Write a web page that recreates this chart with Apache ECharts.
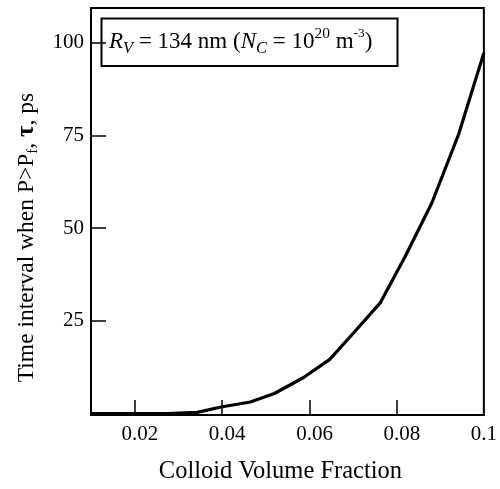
<!DOCTYPE html>
<html>
<head>
<meta charset="utf-8">
<script src="https://cdn.jsdelivr.net/npm/echarts@6/dist/echarts.min.js"></script>
<style>html,body{margin:0;padding:0;background:#fff}#c{width:500px;height:489px}</style>
</head>
<body>
<div id="c"></div>
<script>
// Data
const volumeFraction = [0.01, 0.0274, 0.0343, 0.0398, 0.0465, 0.052, 0.0587, 0.0647, 0.0709, 0.0763, 0.082, 0.0881, 0.0942, 0.1];
const tauPs =          [0,    0,      0.3,    1.75,   3.1,    5.4,   9.7,    14.6,   22.7,   29.9,   42.4,  56.8,   75.2,   97.2];
const xTickValues = [0.02, 0.04, 0.06, 0.08];
const xLabelValues = [0.02, 0.04, 0.06, 0.08, 0.1];
const yTickValues = [25, 50, 75, 100];
const xTitle = 'Colloid Volume Fraction';

const FONT = 'Liberation Serif';
const chart = echarts.init(document.getElementById('c'), null, {renderer: 'canvas'});
const seriesData = volumeFraction.map((x, i) => [x, tauPs[i]]);

chart.setOption({
  animation: false,
  backgroundColor: '#fff',
  title: {
    text: '{i|R}{sub|V}{n| = 134 nm (}{i|N}{sub|C}{n| = 10}{sup|20}{n| m}{sup2|-3}{n|)}',
    left: 109, top: 26, padding: 0,
    textStyle: {
      fontFamily: FONT, fontSize: 23, color: '#000', fontWeight: 'normal',
      rich: {
        n: {fontFamily: FONT, fontSize: 23, color: '#000'},
        i: {fontFamily: FONT, fontSize: 23, color: '#000', fontStyle: 'italic'},
        sub: {fontFamily: FONT, fontSize: 16.5, color: '#000', fontStyle: 'italic', padding: [14, 0, 0, 0]},
        sup: {fontFamily: FONT, fontSize: 15.5, color: '#000', padding: [0, 0, 16, 0]},
        sup2: {fontFamily: FONT, fontSize: 13.5, color: '#000', padding: [0, 0, 17, 0]}
      }
    }
  },
  graphic: [{
    type: 'rect', z: 1,
    shape: {x: 101.5, y: 18.5, width: 296, height: 47.5},
    style: {fill: 'none', stroke: '#000', lineWidth: 2}
  }],
  grid: {left: 91, top: 8, right: 16, bottom: 73, show: true, borderColor: '#000', borderWidth: 2, backgroundColor: 'transparent'},
  xAxis: {
    type: 'value', min: 0.01, max: 0.1,
    name: xTitle, nameLocation: 'middle', nameGap: 44,
    nameTextStyle: {fontFamily: FONT, fontSize: 24.5, color: '#000', padding: [0, 14, 0, 0]},
    axisLine: {show: true, onZero: false, lineStyle: {color: '#000', width: 2}},
    axisTick: {show: true, inside: true, length: 15, customValues: xTickValues, lineStyle: {color: '#000', width: 1.5}},
    axisLabel: {
      show: true, margin: 9, customValues: xLabelValues, color: '#000', fontFamily: FONT, fontSize: 21,
      formatter: v => (Math.abs(v - 0.1) < 1e-9) ? '0.1' : '{h|0}' + v.toFixed(2),
      rich: {h: {fontFamily: FONT, fontSize: 21, color: 'rgba(0,0,0,0)'}}
    },
    splitLine: {show: false}
  },
  yAxis: {
    type: 'value', min: -0.4, max: 109.3,
    name: '{n|Time interval when P>P}{s|f}{n|, }{b|τ}{n|, ps}',
    nameLocation: 'middle', nameGap: 50, nameRotate: 90,
    nameTextStyle: {
      fontFamily: FONT, fontSize: 23.5, color: '#000', padding: [0, 52, 0, 0],
      rich: {
        n: {fontFamily: FONT, fontSize: 23.5, color: '#000'},
        s: {fontFamily: FONT, fontSize: 15, color: '#000', padding: [14, 0, 0, 0]},
        b: {fontFamily: FONT, fontSize: 25, color: '#000', fontWeight: 'bold'}
      }
    },
    axisLine: {show: true, onZero: false, lineStyle: {color: '#000', width: 2}},
    axisTick: {show: true, inside: true, length: 15, customValues: yTickValues, lineStyle: {color: '#000', width: 1.5}},
    axisLabel: {show: true, margin: 7, customValues: yTickValues, color: '#000', fontFamily: FONT, fontSize: 21, padding: [6, 0, 0, 0]},
    splitLine: {show: false}
  },
  series: [{
    type: 'line', data: seriesData, showSymbol: false, symbol: 'none',
    lineStyle: {color: '#000', width: 3.2}, clip: false, z: 3
  }]
});
</script>
</body>
</html>
